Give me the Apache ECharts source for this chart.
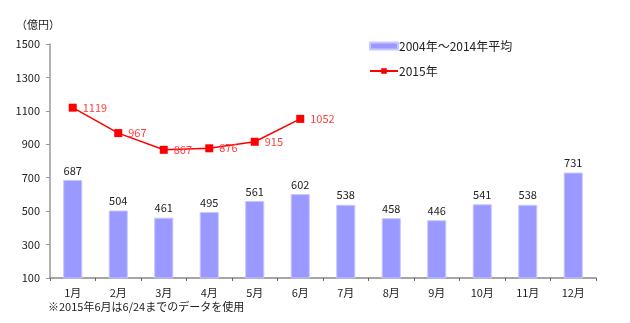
<!DOCTYPE html>
<html>
<head>
<meta charset="utf-8">
<script src="https://cdn.jsdelivr.net/npm/echarts@6/dist/echarts.min.js"></script>
<style>
  html, body { margin: 0; padding: 0; background: #fff; }
  #chart { width: 630px; height: 323px; }
</style>
</head>
<body>
<div id="chart"></div>
<script>
// Monthly categories
const months = ['1月', '2月', '3月', '4月', '5月', '6月', '7月', '8月', '9月', '10月', '11月', '12月'];
// 2004–2014 monthly average (億円)
const avgValues = [687, 504, 461, 495, 561, 602, 538, 458, 446, 541, 538, 731];
// 2015 values, January through June
const values2015 = [1119, 967, 867, 876, 915, 1052];
// Y-axis range and step
const yMin = 100, yMax = 1500, yStep = 200;

const seriesNames = ['2004年～2014年平均', '2015年'];
const font = '"Noto Sans CJK JP", "Noto Sans", sans-serif';

const chart = echarts.init(document.getElementById('chart'));
chart.setOption({
  animation: false,
  textStyle: { fontFamily: font },
  grid: { left: 50, right: 34, top: 44, bottom: 45 },
  legend: {
    orient: 'vertical',
    left: 364,
    top: 35,
    itemGap: 13,
    itemWidth: 28,
    itemHeight: 7,
    textStyle: { fontSize: 12, color: '#222', fontFamily: font, padding: [0, 0, 0, -4] },
    data: [
      { name: seriesNames[0], icon: 'rect' },
      { name: seriesNames[1] }
    ]
  },
  xAxis: {
    type: 'category',
    data: months,
    axisLine: { lineStyle: { color: '#888', width: 1.5 } },
    axisTick: { show: true, inside: false, length: 3, lineStyle: { color: '#666' } },
    axisLabel: { color: '#222', fontSize: 11, margin: 9 }
  },
  yAxis: {
    type: 'value',
    min: yMin,
    max: yMax,
    interval: yStep,
    name: '（億円）',
    nameLocation: 'end',
    nameGap: 14,
    nameTextStyle: { color: '#222', fontSize: 11, align: 'right', padding: [0, -10, 0, 0] },
    splitLine: { show: false },
    axisLine: { show: true, lineStyle: { color: '#999', width: 1.5 } },
    axisTick: { show: true, length: 4, lineStyle: { color: '#999' } },
    axisLabel: { color: '#222', fontSize: 11, margin: 10, formatter: v => String(v) }
  },
  series: [
    {
      name: seriesNames[0],
      type: 'bar',
      data: avgValues,
      barWidth: '42%',
      itemStyle: { color: '#9999FF', borderColor: '#C8C8FF', borderWidth: 1 },
      label: { show: true, position: 'top', color: '#222', fontSize: 11, distance: 4 }
    },
    {
      name: seriesNames[1],
      type: 'line',
      data: values2015,
      symbol: 'rect',
      symbolSize: 8,
      lineStyle: { color: '#FF0000', width: 1.5 },
      itemStyle: { color: '#FF0000' },
      label: { show: true, position: 'right', color: '#FF4040', fontSize: 11, distance: 6 },
      z: 5
    }
  ],
  graphic: [
    {
      type: 'text',
      left: 48,
      top: 301,
      style: { text: '※2015年6月は6/24までのデータを使用', fontSize: 11, fill: '#222', fontFamily: font }
    }
  ]
});
</script>
</body>
</html>
